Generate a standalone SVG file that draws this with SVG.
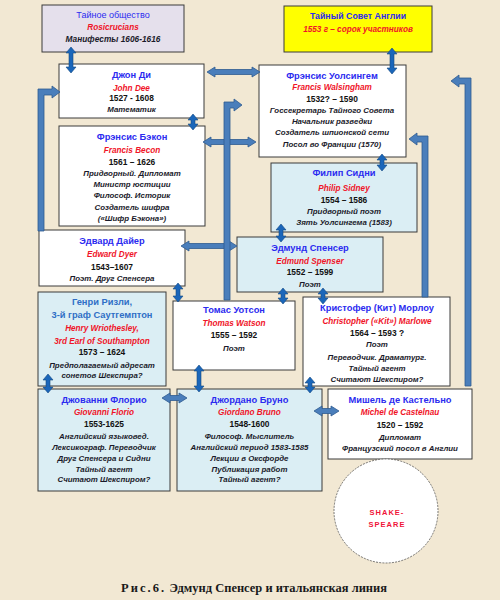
<svg xmlns="http://www.w3.org/2000/svg" width="500" height="600" viewBox="0 0 500 600">
<style>
text{font-family:"Liberation Sans",Arial,sans-serif;text-anchor:middle}
.box{stroke:#3a3a3a;stroke-width:1}
.w{fill:#ffffff}
.b{fill:#dbeef4}
.nm{font-size:9.3px;font-weight:bold;fill:#2b2bf0}
.nm2{font-size:9.3px;font-weight:bold;fill:#2f6fc6}
.en{font-size:8.2px;font-weight:bold;font-style:italic;fill:#f01428}
.yr{font-size:8.4px;font-weight:bold;fill:#111}
.ds{font-size:7.9px;font-weight:bold;font-style:italic;fill:#1a1a2a}
.da{fill:#1a66ba;stroke:#164a82;stroke-width:0.6}
.el{fill:#4a7ebb;stroke:#2f5a8f;stroke-width:0.8}
.cap{font-family:"Liberation Serif","Times New Roman",serif;font-size:12px;font-weight:bold;fill:#1a1a1a;text-anchor:start}
</style>
<rect x="0" y="0" width="500" height="600" fill="#f2e8d3"/>
<g id="rosicrucians">
<rect class="box" x="42" y="5" width="142" height="47" fill="#e5e0ec"/>
<text x="113" y="18" style="font-size:9px;fill:#2b2bf0">Тайное общество</text>
<text class="en" x="113" y="30">Rosicrucians</text>
<text class="ds" x="113" y="42" style="font-size:8.3px">Манифесты 1606-1616</text>
</g>
<g id="privy-council">
<rect class="box" x="284" y="6" width="148" height="46" fill="#ffff00"/>
<text class="nm" x="358" y="19" style="font-size:8.8px">Тайный Совет Англии</text>
<text class="en" x="358" y="32">1553 г – сорок участников</text>
</g>
<g id="dee">
<rect class="box w" x="59" y="64" width="145" height="54"/>
<text class="nm" x="131.5" y="78">Джон Ди</text>
<text class="en" x="131.5" y="91">John Dee</text>
<text class="yr" x="131.5" y="101">1527 - 1608</text>
<text class="ds" x="131.5" y="112">Математик</text>
</g>
<g id="walsingham">
<rect class="box w" x="259" y="65" width="147" height="92"/>
<text class="nm" x="332" y="79">Фрэнсис Уолсингем</text>
<text class="en" x="332" y="90">Francis Walsingham</text>
<text class="yr" x="332" y="102">1532? – 1590</text>
<text class="ds" x="332" y="113">Госсекретарь Тайного Совета</text>
<text class="ds" x="332" y="124">Начальник разведки</text>
<text class="ds" x="332" y="135">Создатель шпионской сети</text>
<text class="ds" x="332" y="147">Посол во Франции (1570)</text>
</g>
<g id="bacon">
<rect class="box w" x="59" y="126" width="146" height="100"/>
<text class="nm" x="132" y="140">Фрэнсис Бэкон</text>
<text class="en" x="132" y="153">Francis Becon</text>
<text class="yr" x="132" y="165">1561 – 1626</text>
<text class="ds" x="132" y="176">Придворный. Дипломат</text>
<text class="ds" x="132" y="187">Министр юстиции</text>
<text class="ds" x="132" y="198">Философ. Историк</text>
<text class="ds" x="132" y="210">Создатель шифра</text>
<text class="ds" x="132" y="221">(«Шифр Бэкона»)</text>
</g>
<g id="sidney">
<rect class="box b" x="271" y="163" width="146" height="69"/>
<text class="nm" x="344" y="176">Филип Сидни</text>
<text class="en" x="344" y="191">Philip Sidney</text>
<text class="yr" x="344" y="203">1554 – 1586</text>
<text class="ds" x="344" y="214">Придворный поэт</text>
<text class="ds" x="344" y="225">Зять Уолсингема (1583)</text>
</g>
<g id="dyer">
<rect class="box w" x="39" y="230" width="146" height="56"/>
<text class="nm" x="112" y="244">Эдвард Дайер</text>
<text class="en" x="112" y="257">Edward Dyer</text>
<text class="yr" x="112" y="270">1543–1607</text>
<text class="ds" x="112" y="281">Поэт. Друг Спенсера</text>
</g>
<g id="spenser">
<rect class="box b" x="237" y="237" width="146" height="55"/>
<text class="nm" x="310" y="251">Эдмунд Спенсер</text>
<text class="en" x="310" y="264">Edmund Spenser</text>
<text class="yr" x="310" y="275">1552 – 1599</text>
<text class="ds" x="310" y="287">Поэт</text>
</g>
<g id="wriothesley">
<rect class="box b" x="38" y="292" width="128" height="94"/>
<text class="nm2" x="102" y="305">Генри Ризли,</text>
<text class="nm2" x="102" y="318">3-й граф Саутгемптон</text>
<text class="en" x="102" y="331">Henry Wriothesley,</text>
<text class="en" x="102" y="344">3rd Earl of Southampton</text>
<text class="yr" x="102" y="355">1573 – 1624</text>
<text class="ds" x="102" y="368">Предполагаемый адресат</text>
<text class="ds" x="102" y="378">сонетов Шекспира?</text>
</g>
<g id="watson">
<rect class="box w" x="173" y="301" width="122" height="69"/>
<text class="nm" x="234" y="313">Томас Уотсон</text>
<text class="en" x="234" y="326">Thomas Watson</text>
<text class="yr" x="234" y="338">1555 – 1592</text>
<text class="ds" x="234" y="351">Поэт</text>
</g>
<g id="marlowe">
<rect class="box w" x="303" y="297" width="147" height="89"/>
<text class="nm" x="377" y="311">Кристофер (Кит) Морлоу</text>
<text class="en" x="377" y="324">Christopher («Kit») Marlowe</text>
<text class="yr" x="377" y="336">1564 – 1593 ?</text>
<text class="ds" x="377" y="347">Поэт</text>
<text class="ds" x="377" y="360">Переводчик. Драматург.</text>
<text class="ds" x="377" y="371">Тайный агент</text>
<text class="ds" x="377" y="382">Считают Шекспиром?</text>
</g>
<g id="florio">
<rect class="box b" x="38" y="389" width="132" height="102"/>
<text class="nm" x="104" y="403">Джованни Флорио</text>
<text class="en" x="104" y="415">Giovanni Florio</text>
<text class="yr" x="104" y="427">1553-1625</text>
<text class="ds" x="104" y="439">Английский языковед.</text>
<text class="ds" x="104" y="450">Лексикограф. Переводчик</text>
<text class="ds" x="104" y="461">Друг Спенсера и Сидни</text>
<text class="ds" x="104" y="472">Тайный агент</text>
<text class="ds" x="104" y="482">Считают Шекспиром?</text>
</g>
<g id="bruno">
<rect class="box b" x="177" y="389" width="145" height="102"/>
<text class="nm" x="249.5" y="403">Джордано Бруно</text>
<text class="en" x="249.5" y="415">Giordano Bruno</text>
<text class="yr" x="249.5" y="427">1548-1600</text>
<text class="ds" x="249.5" y="439">Философ. Мыслитель</text>
<text class="ds" x="249.5" y="450">Английский период 1583-1585</text>
<text class="ds" x="249.5" y="461">Лекции в Оксфорде</text>
<text class="ds" x="249.5" y="472">Публикация работ</text>
<text class="ds" x="249.5" y="482">Тайный агент?</text>
</g>
<g id="castelnau">
<rect class="box w" x="328" y="389" width="144" height="70"/>
<text class="nm" x="400" y="403">Мишель де Кастельно</text>
<text class="en" x="400" y="415">Michel de Castelnau</text>
<text class="yr" x="400" y="428">1520 – 1592</text>
<text class="ds" x="400" y="440">Дипломат</text>
<text class="ds" x="400" y="451">Французский посол в Англии</text>
</g>
<g id="shakespeare">
<circle cx="386" cy="511" r="52" fill="#ffffff" stroke="#555" stroke-width="0.8" stroke-dasharray="2,1.2"/>
<text x="387" y="515" style="font-size:7.5px;font-weight:bold;fill:#f01438;letter-spacing:1px">SHAKE-</text>
<text x="387" y="527" style="font-size:7.5px;font-weight:bold;fill:#f01438;letter-spacing:1px">SPEARE</text>
</g>
<g id="connectors">
<path class="da" d="M71,47 L76,53 L73,53 L73,67 L76,67 L71,73 L66,67 L69,67 L69,53 L66,53 Z"/>
<path class="da" d="M392,48 L397,54 L394,54 L394,68 L397,68 L392,74 L387,68 L390,68 L390,54 L387,54 Z"/>
<path class="da" d="M193,114 L198,120 L195,120 L195,124 L198,124 L193,130 L188,124 L191,124 L191,120 L188,120 Z"/>
<path class="da" d="M382,154 L387,160 L384,160 L384,165 L387,165 L382,171 L377,165 L380,165 L380,160 L377,160 Z"/>
<path class="da" d="M281,224 L286,230 L283,230 L283,236 L286,236 L281,242 L276,236 L279,236 L279,230 L276,230 Z"/>
<path class="da" d="M178,283 L183,289 L180,289 L180,296 L183,296 L178,302 L173,296 L176,296 L176,289 L173,289 Z"/>
<path class="da" d="M283,288 L288,294 L285,294 L285,298 L288,298 L283,304 L278,298 L281,298 L281,294 L278,294 Z"/>
<path class="da" d="M323,288 L328,294 L325,294 L325,298 L328,298 L323,304 L318,298 L321,298 L321,294 L318,294 Z"/>
<path class="da" d="M48,374 L53,380 L50,380 L50,387 L53,387 L48,393 L43,387 L46,387 L46,380 L43,380 Z"/>
<path class="da" d="M199,365 L204,371 L201,371 L201,386 L204,386 L199,392 L194,386 L197,386 L197,371 L194,371 Z"/>
<path class="da" d="M310,377 L315,383 L312,383 L312,387 L315,387 L310,393 L305,387 L308,387 L308,383 L305,383 Z"/>
<path class="el" d="M207,72 L215,67 L215,69.5 L252,69.5 L252,67 L260,72 L252,77 L252,74.5 L215,74.5 L215,77 Z"/>
<path class="el" d="M203,142 L211,137 L211,139.5 L248,139.5 L248,137 L256,142 L248,147 L248,144.5 L211,144.5 L211,147 Z"/>
<path class="el" d="M181,246 L189,241 L189,243.5 L229,243.5 L229,241 L237,246 L229,251 L229,248.5 L189,248.5 L189,251 Z"/>
<path class="el" d="M162,398 L170,393 L170,395.5 L179,395.5 L179,393 L187,398 L179,403 L179,400.5 L170,400.5 L170,403 Z"/>
<path class="el" d="M314,411 L322,406 L322,408.5 L331,408.5 L331,406 L339,411 L331,416 L331,413.5 L322,413.5 L322,416 Z"/>
<path class="el" d="M38,231 L38,89 L52,89 L52,86 L60,92 L52,98 L52,95 L44,95 L44,231 Z"/>
<path class="el" d="M224,300 L224,102 L234,102 L234,99 L242,105 L234,111 L234,108 L230,108 L230,300 Z"/>
<path class="el" d="M471,386 L471,78 L459,78 L459,75 L451,81 L459,87 L459,84 L465,84 L465,386 Z"/>
<path class="el" d="M428,297 L428,136 L417,136 L417,133 L409,139 L417,145 L417,142 L422,142 L422,297 Z"/>
</g>
<text class="cap" x="121" y="592" textLength="266" lengthAdjust="spacingAndGlyphs"><tspan style="letter-spacing:2px">Рис.6.</tspan>  Эдмунд Спенсер и итальянская линия</text>
</svg>
